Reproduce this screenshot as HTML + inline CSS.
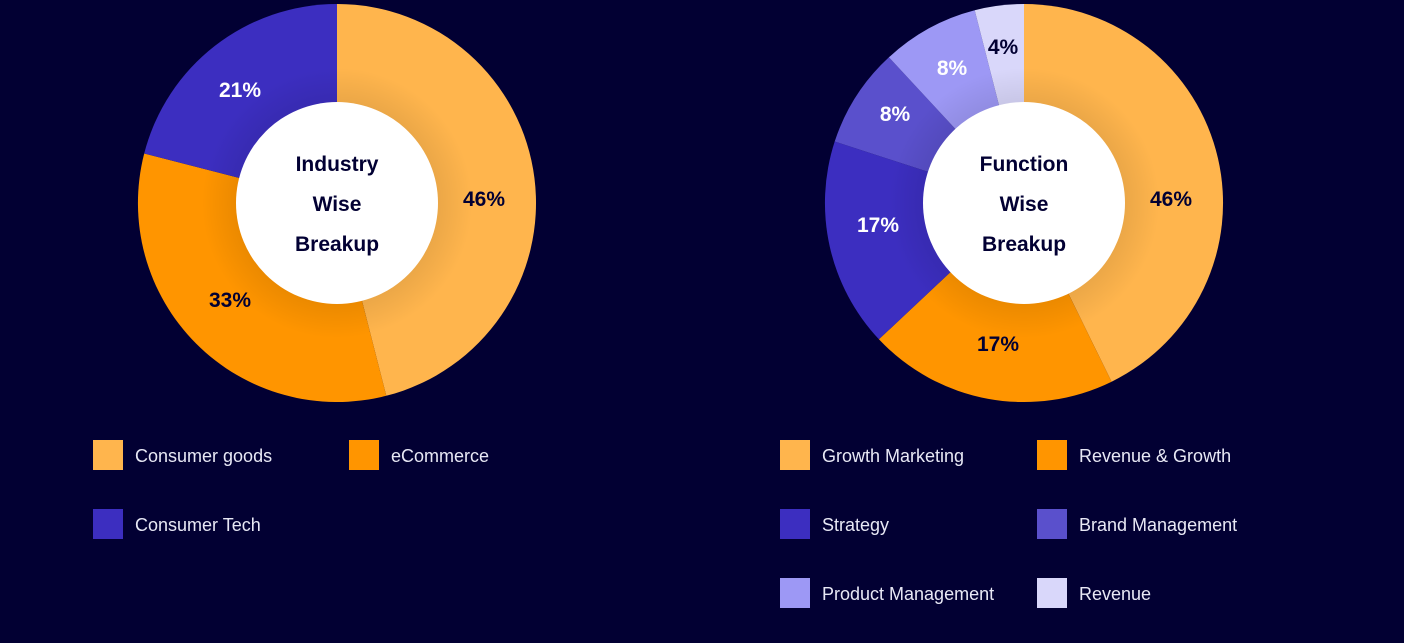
<!DOCTYPE html>
<html><head><meta charset="utf-8"><style>
html,body{margin:0;padding:0;background:#020033;width:1404px;height:643px;overflow:hidden}
svg{display:block}
text{font-family:"Liberation Sans",sans-serif}
</style></head><body>
<svg width="1404" height="643" viewBox="0 0 1404 643">
<rect width="1404" height="643" fill="#020033"/>
<defs>
<radialGradient id="sh" cx="0.5" cy="0.5" r="0.5">
<stop offset="0.5" stop-color="#000" stop-opacity="0.08"/>
<stop offset="0.68" stop-color="#000" stop-opacity="0"/>
</radialGradient>
</defs>
<g>
<path d="M337,203 L337,4 A199,199 0 0 1 386.3,395.8 Z" fill="#FFB54D"/>
<path d="M337,203 L386.3,395.8 A199,199 0 0 1 144.2,153.5 Z" fill="#FF9500"/>
<path d="M337,203 L144.2,153.5 A199,199 0 0 1 337,4 Z" fill="#3C2EC0"/>
<circle cx="337" cy="203" r="199" fill="url(#sh)"/>
<circle cx="337" cy="203" r="101" fill="#fff"/>
<g font-weight="bold" font-size="21" text-anchor="middle" fill="#020033">
<text x="337" y="171">Industry</text><text x="337" y="211">Wise</text><text x="337" y="251">Breakup</text>
<text x="484" y="206">46%</text><text x="230" y="307">33%</text>
<text x="240" y="97" fill="#fff">21%</text>
</g>
</g>
<g>
<path d="M1024,203 L1024,4 A199,199 0 0 1 1111.6,381.7 Z" fill="#FFB54D"/>
<path d="M1024,203 L1111.6,381.7 A199,199 0 0 1 878.9,339.3 Z" fill="#FF9500"/>
<path d="M1024,203 L878.9,339.3 A199,199 0 0 1 834.7,141.5 Z" fill="#3C2EC0"/>
<path d="M1024,203 L834.7,141.5 A199,199 0 0 1 888.9,57.3 Z" fill="#5A50CC"/>
<path d="M1024,203 L888.9,57.3 A199,199 0 0 1 974.7,10.2 Z" fill="#9D98F5"/>
<path d="M1024,203 L974.7,10.2 A199,199 0 0 1 1024,4 Z" fill="#D9D7FA"/>
<circle cx="1024" cy="203" r="199" fill="url(#sh)"/>
<circle cx="1024" cy="203" r="101" fill="#fff"/>
<g font-weight="bold" font-size="21" text-anchor="middle" fill="#020033">
<text x="1024" y="171">Function</text><text x="1024" y="211">Wise</text><text x="1024" y="251">Breakup</text>
<text x="1171" y="206">46%</text><text x="998" y="351">17%</text>
<text x="878" y="232" fill="#fff">17%</text><text x="895" y="121" fill="#fff">8%</text>
<text x="952" y="75" fill="#fff">8%</text><text x="1003" y="54">4%</text>
</g>
</g>
<g font-size="18" fill="#E8E8F5">
<rect x="93" y="440" width="30" height="30" fill="#FFB54D"/><text x="135" y="462">Consumer goods</text>
<rect x="349" y="440" width="30" height="30" fill="#FF9500"/><text x="391" y="462">eCommerce</text>
<rect x="93" y="509" width="30" height="30" fill="#3C2EC0"/><text x="135" y="531">Consumer Tech</text>
<rect x="780" y="440" width="30" height="30" fill="#FFB54D"/><text x="822" y="462">Growth Marketing</text>
<rect x="1037" y="440" width="30" height="30" fill="#FF9500"/><text x="1079" y="462">Revenue &amp; Growth</text>
<rect x="780" y="509" width="30" height="30" fill="#3C2EC0"/><text x="822" y="531">Strategy</text>
<rect x="1037" y="509" width="30" height="30" fill="#5A50CC"/><text x="1079" y="531">Brand Management</text>
<rect x="780" y="578" width="30" height="30" fill="#9D98F5"/><text x="822" y="600">Product Management</text>
<rect x="1037" y="578" width="30" height="30" fill="#D9D7FA"/><text x="1079" y="600">Revenue</text>
</g>
</svg>
</body></html>
